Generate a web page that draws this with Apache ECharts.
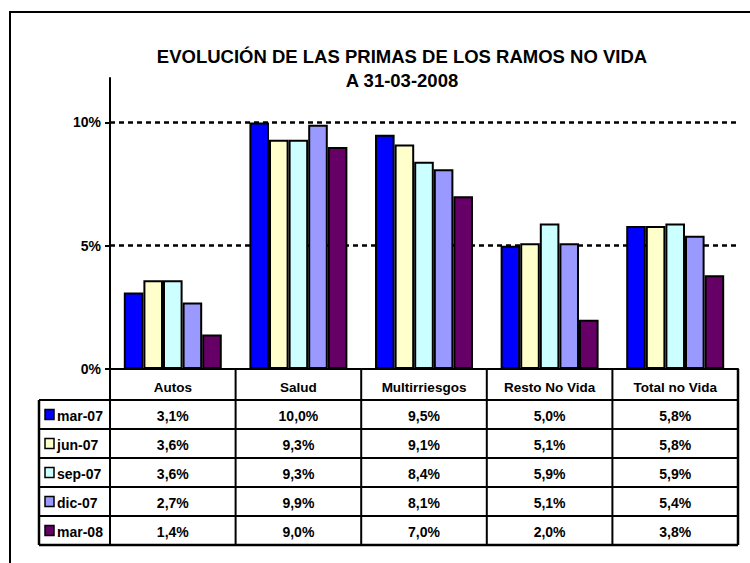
<!DOCTYPE html>
<html>
<head>
<meta charset="utf-8">
<script src="https://cdn.jsdelivr.net/npm/echarts@6/dist/echarts.min.js"></script>
<style>
  html, body { margin: 0; padding: 0; background: #fff; }
  #chart { width: 750px; height: 563px; }
</style>
</head>
<body>
<div id="chart"></div>
<script>
var categories = ['Autos', 'Salud', 'Multirriesgos', 'Resto No Vida', 'Total no Vida'];
var periods = ['mar-07', 'jun-07', 'sep-07', 'dic-07', 'mar-08'];
var mar07 = [3.1, 10.0, 9.5, 5.0, 5.8];
var jun07 = [3.6, 9.3, 9.1, 5.1, 5.8];
var sep07 = [3.6, 9.3, 8.4, 5.9, 5.9];
var dic07 = [2.7, 9.9, 8.1, 5.1, 5.4];
var mar08 = [1.4, 9.0, 7.0, 2.0, 3.8];
var yTicks = [0, 5, 10];
var colors = ['#0000ff', '#ffffcc', '#ccffff', '#9999ff', '#660066'];

var values = [mar07, jun07, sep07, dic07, mar08];
var font = '"Liberation Sans", Arial, sans-serif';

// layout of plot + table below it
var gLeft = 110, gRight = 738, gTop = 78, gBottom = 369;
var rowTop = 400, rowH = 29, legLeft = 39;
var colW = (gRight - gLeft) / categories.length;

function fmt(v) { return v.toFixed(1).replace('.', ',') + '%'; }

var chart = echarts.init(document.getElementById('chart'), null, { renderer: 'svg' });

var graphic = [];
// outer frame
graphic.push({ type: 'rect', shape: { x: 10, y: 12, width: 760, height: 570 },
  style: { fill: null, stroke: '#000', lineWidth: 2 } });

function line(x1, y1, x2, y2, w) {
  graphic.push({ type: 'line', shape: { x1: x1, y1: y1, x2: x2, y2: y2 },
    style: { stroke: '#000', lineWidth: w || 2 }, z: 10 });
}
var tableBottom = rowTop + rowH * periods.length;
// horizontal rules
for (var r = 0; r < periods.length; r++) {
  line(legLeft, rowTop + r * rowH, gRight, rowTop + r * rowH, 2);
}
line(legLeft, tableBottom, gRight, tableBottom, 2.5);
// vertical rules
line(legLeft, rowTop, legLeft, tableBottom, 2.5);
line(gLeft, gBottom, gLeft, tableBottom, 2);
for (var c = 1; c < categories.length; c++) {
  line(gLeft + c * colW, gBottom, gLeft + c * colW, tableBottom, 2);
}
line(gRight, gBottom, gRight, tableBottom, 2.5);

// legend keys + cells
periods.forEach(function(p, i) {
  var yc = rowTop + i * rowH + rowH / 2;
  graphic.push({ type: 'rect', shape: { x: 45, y: yc - 5, width: 9, height: 10 },
    style: { fill: colors[i], stroke: '#000', lineWidth: 1.5 }, z: 10 });
  graphic.push({ type: 'text', x: 57, y: yc + 1,
    style: { text: p, font: 'bold 14px ' + font, fill: '#000', textVerticalAlign: 'middle' }, z: 10 });
  values[i].forEach(function(v, j) {
    graphic.push({ type: 'text', x: gLeft + (j + 0.5) * colW, y: yc + 1,
      style: { text: fmt(v), font: 'bold 14px ' + font, fill: '#000',
        textAlign: 'center', textVerticalAlign: 'middle' }, z: 10 });
  });
});

chart.setOption({
  animation: false,
  title: {
    text: 'EVOLUCIÓN DE LAS PRIMAS DE LOS RAMOS NO VIDA\nA 31-03-2008',
    left: 397, top: 39, textAlign: 'center',
    textStyle: { fontFamily: font, fontWeight: 'bold', fontSize: 18.5, lineHeight: 24, color: '#000' }
  },
  grid: { left: gLeft, top: gTop, width: gRight - gLeft, height: gBottom - gTop },
  xAxis: {
    type: 'category',
    data: categories,
    axisLine: { lineStyle: { color: '#000', width: 2 } },
    axisTick: { show: false },
    axisLabel: { margin: 11, color: '#000', fontFamily: font, fontWeight: 'bold', fontSize: 13.5 }
  },
  yAxis: {
    type: 'value',
    min: 0, max: 11.8, interval: 5,
    axisLine: { show: true, lineStyle: { color: '#000', width: 2 } },
    axisTick: { show: true, length: 5, customValues: yTicks, lineStyle: { color: '#000', width: 2 } },
    axisLabel: { customValues: yTicks, margin: 9, color: '#000', fontFamily: font, fontWeight: 'bold', fontSize: 14,
      formatter: function(v) { return v + '%'; } },
    splitLine: { show: true, showMinLine: false,
      lineStyle: { color: '#000', width: 2.5, type: [5, 4] } }
  },
  series: periods.map(function(p, i) {
    return {
      name: p, type: 'bar', data: values[i],
      barGap: '0%', barCategoryGap: '22%',
      itemStyle: { color: colors[i], borderColor: '#000', borderWidth: 2 }
    };
  }),
  graphic: graphic
});
</script>
</body>
</html>
